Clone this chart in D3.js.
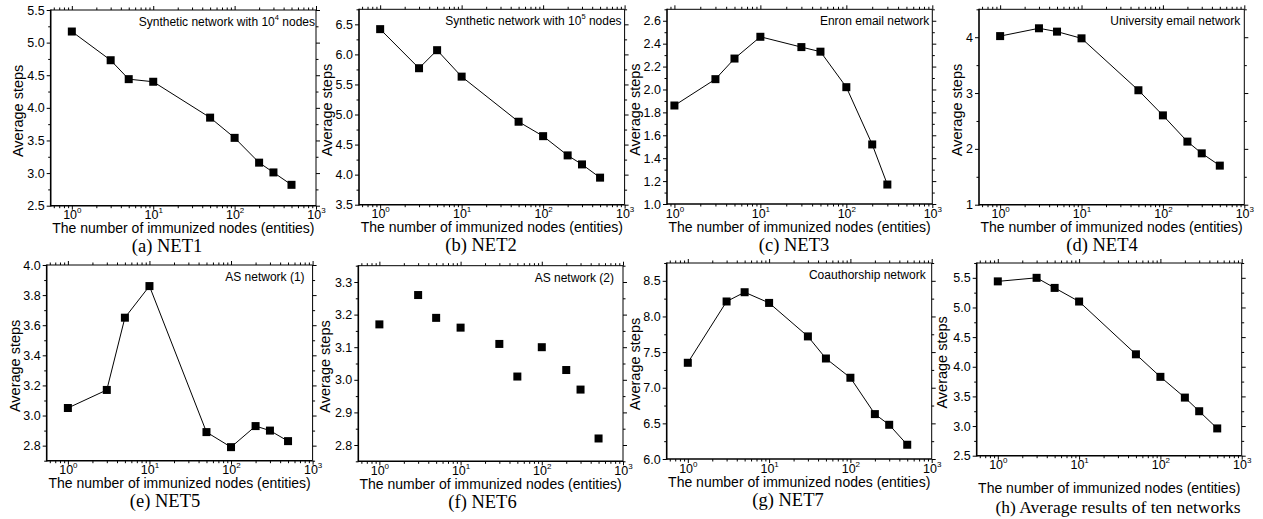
<!DOCTYPE html>
<html><head><meta charset="utf-8">
<script src="https://cdn.jsdelivr.net/npm/d3@7"></script>
<style>
body{margin:0;background:#fff}
svg{display:block}
text{font-family:"Liberation Sans",Arial,Helvetica,sans-serif;fill:#000}
</style>
</head><body>
<svg id="chart" width="1263" height="519"></svg>
<script>
// ---------------- data ----------------
const xNET1 = [1, 3, 5, 10, 50, 100, 200, 300, 500];
const yNET1 = [5.17, 4.73, 4.44, 4.40, 3.85, 3.54, 3.16, 3.01, 2.82];
const xNET2 = [1, 3, 5, 10, 50, 100, 200, 300, 500];
const yNET2 = [6.42, 5.77, 6.07, 5.63, 4.88, 4.64, 4.32, 4.17, 3.95];
const xNET3 = [1, 3, 5, 10, 30, 50, 100, 200, 300];
const yNET3 = [1.86, 2.09, 2.27, 2.46, 2.37, 2.33, 2.02, 1.52, 1.17];
const xNET4 = [1, 3, 5, 10, 50, 100, 200, 300, 500];
const yNET4 = [4.02, 4.16, 4.10, 3.98, 3.05, 2.60, 2.13, 1.92, 1.70];
const xNET5 = [1, 3, 5, 10, 50, 100, 200, 300, 500];
const yNET5 = [3.05, 3.17, 3.65, 3.86, 2.89, 2.79, 2.93, 2.90, 2.83];
const xNET6 = [1, 3, 5, 10, 30, 50, 100, 200, 300, 500];
const yNET6 = [3.17, 3.26, 3.19, 3.16, 3.11, 3.01, 3.10, 3.03, 2.97, 2.82];
const xNET7 = [1, 3, 5, 10, 30, 50, 100, 200, 300, 500];
const yNET7 = [7.35, 8.21, 8.34, 8.19, 7.72, 7.41, 7.14, 6.63, 6.48, 6.20];
const xAVG = [1, 3, 5, 10, 50, 100, 200, 300, 500];
const yAVG = [5.44, 5.50, 5.33, 5.10, 4.21, 3.83, 3.48, 3.25, 2.96];

const xTickValues = [1, 10, 100, 1000];
const yTicksNET1 = [2.5, 3.0, 3.5, 4.0, 4.5, 5.0, 5.5];
const yTicksNET2 = [3.5, 4.0, 4.5, 5.0, 5.5, 6.0, 6.5];
const yTicksNET3 = [1.0, 1.2, 1.4, 1.6, 1.8, 2.0, 2.2, 2.4, 2.6];
const yTicksNET4 = [1, 2, 3, 4];
const yTicksNET5 = [2.8, 3.0, 3.2, 3.4, 3.6, 3.8, 4.0];
const yTicksNET6 = [2.8, 2.9, 3.0, 3.1, 3.2, 3.3];
const yTicksNET7 = [6.0, 6.5, 7.0, 7.5, 8.0, 8.5];
const yTicksAVG = [2.5, 3.0, 3.5, 4.0, 4.5, 5.0, 5.5];

const xTitle = "The number of immunized nodes (entities)";
const yTitle = "Average steps";

// ---------------- layout ----------------
const panels = [
  {xs:xNET1, ys:yNET1, yDom:[2.5,5.5], yT:yTicksNET1, fmt:".1f", xMin:0.55, L:50.7, T:10, R:316, B:205.7,
   note:["Synthetic network with 10","4"," nodes"], noteDx:1, cap:"(a) NET1", capX:167, line:true, yTx:33},
  {xs:xNET2, ys:yNET2, yDom:[3.5,6.75], yT:yTicksNET2, fmt:".1f", xMin:0.55, L:359, T:9.3, R:624.6, B:204.7,
   note:["Synthetic network with 10","5"," nodes"], noteDx:3, cap:"(b) NET2", capX:481, line:true, yTx:32},
  {xs:xNET3, ys:yNET3, yDom:[1.0,2.7], yT:yTicksNET3, fmt:".1f", xMin:0.82, L:667, T:9.3, R:932.3, B:204,
   note:["Enron email network"], noteDx:3, cap:"(c) NET3", capX:794, line:true, yTx:32},
  {xs:xNET4, ys:yNET4, yDom:[1,4.5], yT:yTicksNET4, fmt:"d", xMin:0.55, L:979, T:9.3, R:1244.3, B:204.7,
   note:["University email network"], noteDx:4, cap:"(d) NET4", capX:1102, line:true, yTx:22},
  {xs:xNET5, ys:yNET5, yDom:[2.7,4.0], yT:yTicksNET5, fmt:".1f", xMin:0.55, L:46.7, T:265, R:312.6, B:460.7,
   note:["AS network (1)"], noteDx:8, cap:"(e) NET5", capX:165, line:true, yTx:32},
  {xs:xNET6, ys:yNET6, yDom:[2.75,3.35], yT:yTicksNET6, fmt:".1f", xMin:0.55, L:358.3, T:265.7, R:623, B:461.3,
   note:["AS network (2)"], noteDx:9, cap:"(f) NET6", capX:482.5, line:false, yTx:33},
  {xs:xNET7, ys:yNET7, yDom:[6.0,8.75], yT:yTicksNET7, fmt:".1f", xMin:0.55, L:666.7, T:263, R:931.7, B:459,
   note:["Coauthorship network"], noteDx:6, cap:"(g) NET7", capX:788, line:true, yTx:32},
  {xs:xAVG, ys:yAVG, yDom:[2.5,5.75], yT:yTicksAVG, fmt:".1f", xMin:0.55, L:976.7, T:263, R:1241.7, B:455.7,
   note:null, noteDx:0, cap:"(h) Average results of ten networks", capX:1118, line:true, yTx:35, capSize:17.5, extra:10, capExtra:11}
];

const svg = d3.select("#chart");
const SANS = '"Liberation Sans",Arial,Helvetica,sans-serif';
const SERIF = '"Liberation Serif","Times New Roman",Times,serif';

panels.forEach(p => {
  const x = d3.scaleLog().domain([p.xMin, 1000]).range([p.L, p.R]);
  const y = d3.scaleLinear().domain(p.yDom).range([p.B, p.T]);
  const g = svg.append("g");

  // minor ticks
  const xMinor = [];
  for (let k = -1; k <= 2; k++) for (let m = 2; m <= 9; m++) {
    const v = m * Math.pow(10, k);
    if (v >= p.xMin && v <= 1000) xMinor.push(v);
  }
  const step = p.yT[1] - p.yT[0];
  const yMinor = [];
  for (let v = p.yT[0] - step/2; v <= p.yDom[1] + 1e-9; v += step) {
    if (v >= p.yDom[0] - 1e-9) yMinor.push(+v.toFixed(4));
  }

  const noDomain = s => s.select(".domain").remove();

  // bottom
  g.append("g").attr("transform", `translate(0,${p.B})`)
    .call(d3.axisBottom(x).tickValues(xMinor).tickSize(2.5).tickFormat(""))
    .call(noDomain);
  const xb = g.append("g").attr("transform", `translate(0,${p.B})`)
    .call(d3.axisBottom(x).tickValues(xTickValues).tickSize(4).tickFormat(""))
    .call(noDomain);
  xb.selectAll(".tick text").each(function(d){
    const t = d3.select(this).attr("y", 13.5).attr("dy", null)
      .attr("font-size", 12.5).attr("text-anchor", "middle")
      .attr("font-family", SANS).attr("fill", "#000");
    t.text(null);
    t.append("tspan").text("10");
    t.append("tspan").attr("font-size", 8).attr("dy", -6).text(Math.round(Math.log10(d)));
  });
  // top
  g.append("g").attr("transform", `translate(0,${p.T})`)
    .call(d3.axisTop(x).tickValues(xMinor).tickSize(2.5).tickFormat("")).call(noDomain);
  g.append("g").attr("transform", `translate(0,${p.T})`)
    .call(d3.axisTop(x).tickValues(xTickValues).tickSize(4).tickFormat("")).call(noDomain);
  // left
  g.append("g").attr("transform", `translate(${p.L},0)`)
    .call(d3.axisLeft(y).tickValues(yMinor).tickSize(2.5).tickFormat("")).call(noDomain);
  g.append("g").attr("transform", `translate(${p.L},0)`)
    .call(d3.axisLeft(y).tickValues(p.yT).tickSize(4).tickPadding(2).tickFormat(d3.format(p.fmt)))
    .call(noDomain)
    .call(s => s.selectAll(".tick text").attr("font-size", 12.5)
      .attr("font-family", SANS).attr("fill", "#000"));
  // right
  g.append("g").attr("transform", `translate(${p.R},0)`)
    .call(d3.axisRight(y).tickValues(yMinor).tickSize(2.5).tickFormat("")).call(noDomain);
  g.append("g").attr("transform", `translate(${p.R},0)`)
    .call(d3.axisRight(y).tickValues(p.yT).tickSize(4).tickFormat("")).call(noDomain);

  g.selectAll(".tick line").attr("stroke", "#000").attr("stroke-width", 1);

  // frame
  g.append("line").attr("x1", p.L).attr("x2", p.R).attr("y1", p.T).attr("y2", p.T)
    .attr("stroke", "#000").attr("stroke-width", 1);
  g.append("line").attr("x1", p.R).attr("x2", p.R).attr("y1", p.T).attr("y2", p.B)
    .attr("stroke", "#000").attr("stroke-width", 1);
  g.append("line").attr("x1", p.L).attr("x2", p.R).attr("y1", p.B).attr("y2", p.B)
    .attr("stroke", "#000").attr("stroke-width", 1.6);
  g.append("line").attr("x1", p.L).attr("x2", p.L).attr("y1", p.T - 0.5).attr("y2", p.B + 0.8)
    .attr("stroke", "#000").attr("stroke-width", 1.6);

  const pts = p.xs.map((v, i) => [v, p.ys[i]]);
  if (p.line) {
    g.append("path").datum(pts)
      .attr("fill", "none").attr("stroke", "#000").attr("stroke-width", 1)
      .attr("d", d3.line().x(d => x(d[0])).y(d => y(d[1])));
  }
  const ms = 8;
  g.selectAll("rect.m").data(pts).enter().append("rect")
    .attr("x", d => x(d[0]) - ms/2).attr("y", d => y(d[1]) - ms/2)
    .attr("width", ms).attr("height", ms).attr("fill", "#000");

  // note
  if (p.note) {
    const t = g.append("text").attr("x", p.R - p.noteDx).attr("y", p.T + 16)
      .attr("text-anchor", "end").attr("font-size", 12);
    t.append("tspan").text(p.note[0]);
    if (p.note.length > 1) {
      t.append("tspan").attr("font-size", 7.5).attr("dy", -6).text(p.note[1]);
      t.append("tspan").attr("dy", 6).text(p.note[2]);
    }
  }

  const extra = p.extra || 0;
  const capExtra = p.capExtra || 0;
  // x title
  g.append("text").attr("x", (p.L + p.R)/2).attr("y", p.B + 27.5 + extra)
    .attr("text-anchor", "middle").attr("font-size", 14).text(xTitle);
  // y title
  const cy = (p.T + p.B)/2 + 3;
  g.append("text").attr("transform", `translate(${p.L - p.yTx + 5},${cy}) rotate(-90)`)
    .attr("text-anchor", "middle").attr("font-size", 14.5).text(yTitle);
  // caption
  g.append("text").attr("x", p.capX).attr("y", p.B + 46.5 + capExtra)
    .attr("text-anchor", "middle").attr("font-size", p.capSize || 18.5)
    .style("font-family", SERIF).text(p.cap);
});
</script>
</body></html>
